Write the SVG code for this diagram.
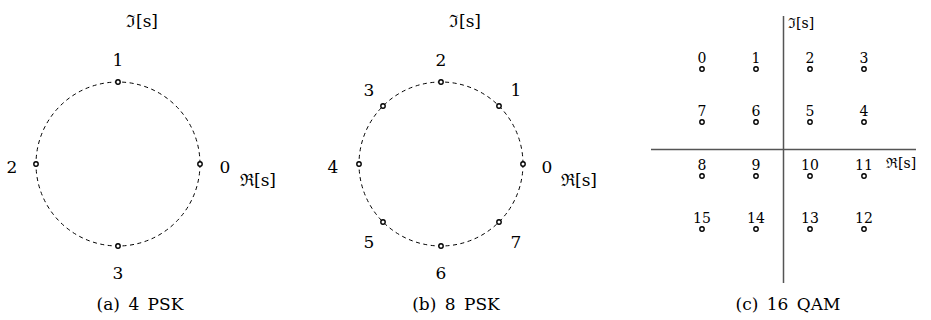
<svg xmlns="http://www.w3.org/2000/svg" width="931" height="320" viewBox="0 0 931 320">
<style>
text{fill:#000;font-family:"DejaVu Serif",serif}
.l{font-size:17px;text-anchor:middle}
.s{font-size:14px;text-anchor:middle}
.ax{font-size:17px}
.axs{font-size:14px}
.cap{font-size:17px;text-anchor:middle;word-spacing:3px}
.ring{fill:none;stroke:#000;stroke-width:1;stroke-dasharray:4 3.5}
.pt{fill:#fff;stroke:#000;stroke-width:1.4}
.axis{stroke:#555;stroke-width:1.5}
</style>
<defs>
<circle id="p" r="2.2" class="pt"/>
</defs>
<g id="psk4">
<text class="ax" x="126" y="27">ℑ[s]</text>
<text class="ax" x="240" y="186">ℜ[s]</text>
<circle class="ring" cx="118" cy="164" r="82"/>
<use href="#p" x="200" y="164"/><use href="#p" x="118" y="82"/><use href="#p" x="36" y="164"/><use href="#p" x="118" y="246"/>
<text class="l" x="225" y="173">0</text>
<text class="l" x="118" y="66">1</text>
<text class="l" x="12" y="173">2</text>
<text class="l" x="118" y="279">3</text>
<text class="cap" x="140" y="310">(a) 4 PSK</text>
</g>
<g id="psk8">
<text class="ax" x="449" y="27">ℑ[s]</text>
<text class="ax" x="561" y="186">ℜ[s]</text>
<circle class="ring" cx="441" cy="164" r="82"/>
<use href="#p" x="523" y="164"/><use href="#p" x="499" y="106"/><use href="#p" x="441" y="82"/><use href="#p" x="383" y="106"/>
<use href="#p" x="359" y="164"/><use href="#p" x="383" y="222"/><use href="#p" x="441" y="246"/><use href="#p" x="499" y="222"/>
<text class="l" x="547" y="173">0</text>
<text class="l" x="516" y="96">1</text>
<text class="l" x="441" y="66">2</text>
<text class="l" x="369" y="96">3</text>
<text class="l" x="333" y="173">4</text>
<text class="l" x="369" y="248">5</text>
<text class="l" x="441" y="279">6</text>
<text class="l" x="516" y="248">7</text>
<text class="cap" x="456" y="310">(b) 8 PSK</text>
</g>
<g id="qam16">
<line class="axis" x1="783.5" y1="16" x2="783.5" y2="283"/>
<line class="axis" x1="651" y1="149.5" x2="916" y2="149.5"/>
<text class="axs" x="788" y="28">ℑ[s]</text>
<text class="axs" x="886" y="168">ℜ[s]</text>
<g>
<use href="#p" x="702" y="69"/><use href="#p" x="756" y="69"/><use href="#p" x="810" y="69"/><use href="#p" x="864" y="69"/>
<use href="#p" x="702" y="122"/><use href="#p" x="756" y="122"/><use href="#p" x="810" y="122"/><use href="#p" x="864" y="122"/>
<use href="#p" x="702" y="176"/><use href="#p" x="756" y="176"/><use href="#p" x="810" y="176"/><use href="#p" x="864" y="176"/>
<use href="#p" x="702" y="229"/><use href="#p" x="756" y="229"/><use href="#p" x="810" y="229"/><use href="#p" x="864" y="229"/>
</g>
<text class="s" x="702" y="63">0</text><text class="s" x="756" y="63">1</text><text class="s" x="810" y="63">2</text><text class="s" x="864" y="63">3</text>
<text class="s" x="702" y="116">7</text><text class="s" x="756" y="116">6</text><text class="s" x="810" y="116">5</text><text class="s" x="864" y="116">4</text>
<text class="s" x="702" y="170">8</text><text class="s" x="756" y="170">9</text><text class="s" x="810" y="170">10</text><text class="s" x="864" y="170">11</text>
<text class="s" x="702" y="223">15</text><text class="s" x="756" y="223">14</text><text class="s" x="810" y="223">13</text><text class="s" x="864" y="223">12</text>
<text class="cap" x="788" y="310">(c) 16 QAM</text>
</g>
</svg>
